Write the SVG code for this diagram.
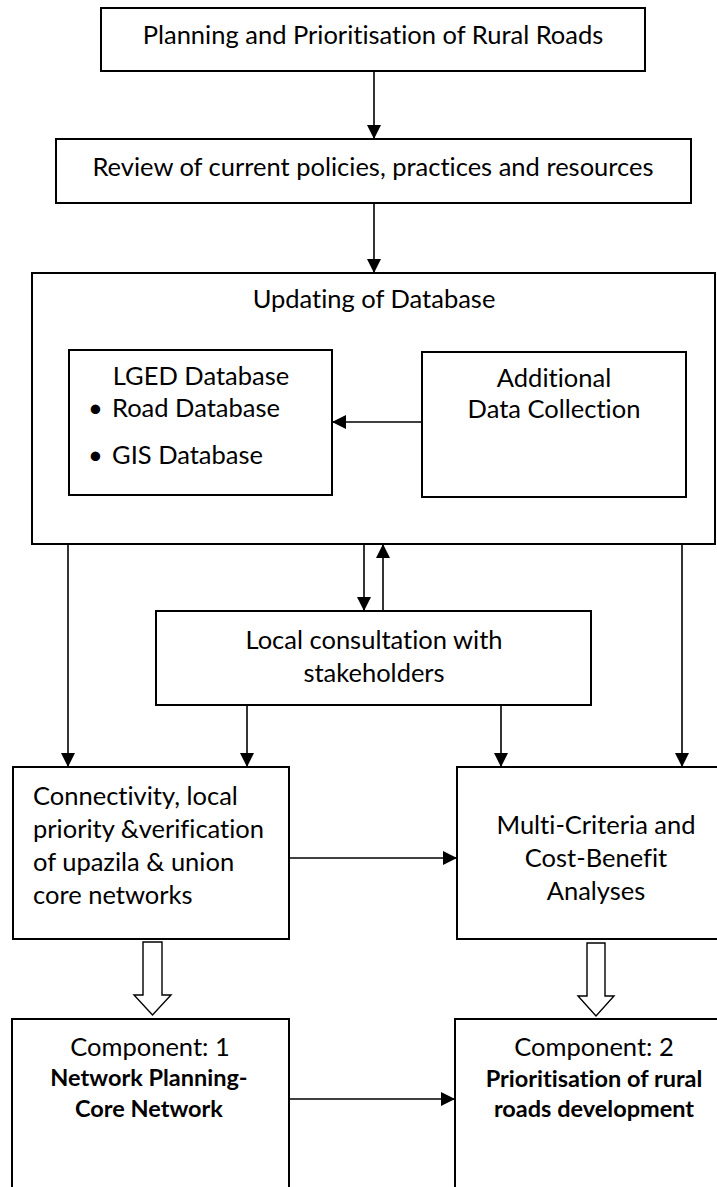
<svg xmlns="http://www.w3.org/2000/svg" width="717" height="1187" viewBox="0 0 717 1187">
<style>
.box{fill:#fff;stroke:#000;stroke-width:2}
.t{font-family:Lato,"Open Sans","Liberation Sans",sans-serif;font-size:25.5px;fill:#000;font-variant-ligatures:none;font-feature-settings:"liga" 0,"clig" 0}
.c{text-anchor:middle}
.b{font-weight:bold;font-size:23.5px}
.ln{stroke:#000;stroke-width:1.6;fill:none}
.hollow{fill:#fff;stroke:#000;stroke-width:1.4}
</style>
<defs>
<marker id="ah" markerUnits="userSpaceOnUse" markerWidth="14" markerHeight="14" viewBox="0 0 14 14" refX="14" refY="7" orient="auto">
<path d="M0,0 L14,7 L0,14 Z" fill="#000"/>
</marker>
</defs>
<rect width="717" height="1187" fill="#fff"/>

<g id="n1">
<rect class="box" x="101" y="8" width="544" height="63"/>
<text class="t c" x="373" y="44">Planning and Prioritisation of Rural Roads</text>
</g>
<g id="n2">
<rect class="box" x="56" y="139" width="635" height="64"/>
<text class="t c" x="373" y="176">Review of current policies, practices and resources</text>
</g>
<g id="n3">
<rect class="box" x="32" y="273" width="683" height="271"/>
<text class="t c" x="374" y="308">Updating of Database</text>
</g>
<g id="n3a">
<rect class="box" x="69" y="350" width="263" height="145"/>
<text class="t c" x="201" y="385">LGED Database</text>
<text class="t" x="88" y="417">•</text>
<text class="t" x="112" y="417">Road Database</text>
<text class="t" x="88" y="464">•</text>
<text class="t" x="112" y="464">GIS Database</text>
</g>
<g id="n3b">
<rect class="box" x="422" y="352" width="264" height="145"/>
<text class="t c" x="554" y="387">Additional</text>
<text class="t c" x="554" y="418">Data Collection</text>
</g>
<g id="n4">
<rect class="box" x="156" y="611" width="435" height="94"/>
<text class="t c" x="374" y="649">Local consultation with</text>
<text class="t c" x="374" y="682">stakeholders</text>
</g>
<g id="n5">
<rect class="box" x="13" y="767" width="276" height="172"/>
<text class="t" x="33" y="805">Connectivity, local</text>
<text class="t" x="33" y="838">priority &amp;verification</text>
<text class="t" x="33" y="871">of upazila &amp; union</text>
<text class="t" x="33" y="904">core networks</text>
</g>
<g id="n6">
<rect class="box" x="457" y="767" width="280" height="172"/>
<text class="t c" x="596" y="834">Multi-Criteria and</text>
<text class="t c" x="596" y="867">Cost-Benefit</text>
<text class="t c" x="596" y="900">Analyses</text>
</g>
<g id="n7">
<rect class="box" x="12" y="1019" width="277" height="200"/>
<text class="t c" x="150" y="1056">Component: 1</text>
<text class="t c b" x="149" y="1086">Network Planning-</text>
<text class="t c b" x="149" y="1117">Core Network</text>
</g>
<g id="n8">
<rect class="box" x="455" y="1019" width="280" height="200"/>
<text class="t c" x="594" y="1056">Component: 2</text>
<text class="t c b" x="594" y="1087">Prioritisation of rural</text>
<text class="t c b" x="594" y="1117">roads development</text>
</g>

<g id="connectors">
<line class="ln" x1="374" y1="71" x2="374" y2="139" marker-end="url(#ah)"/>
<line class="ln" x1="374" y1="203" x2="374" y2="273" marker-end="url(#ah)"/>
<line class="ln" x1="422" y1="422" x2="332" y2="422" marker-end="url(#ah)"/>
<line class="ln" x1="68" y1="544" x2="68" y2="767" marker-end="url(#ah)"/>
<line class="ln" x1="364" y1="544" x2="364" y2="611" marker-end="url(#ah)"/>
<line class="ln" x1="383" y1="611" x2="383" y2="544" marker-end="url(#ah)"/>
<line class="ln" x1="682" y1="544" x2="682" y2="767" marker-end="url(#ah)"/>
<line class="ln" x1="247" y1="705" x2="247" y2="767" marker-end="url(#ah)"/>
<line class="ln" x1="501" y1="705" x2="501" y2="767" marker-end="url(#ah)"/>
<line class="ln" x1="289" y1="858" x2="457" y2="858" marker-end="url(#ah)"/>
<line class="ln" x1="289" y1="1099" x2="455" y2="1099" marker-end="url(#ah)"/>
<path class="hollow" d="M143,942 H162 V995 H171 L152.5,1015 L134,995 H143 Z"/>
<path class="hollow" d="M587,943 H605 V996 H614 L596,1016 L578,996 H587 Z"/>
</g>
</svg>
